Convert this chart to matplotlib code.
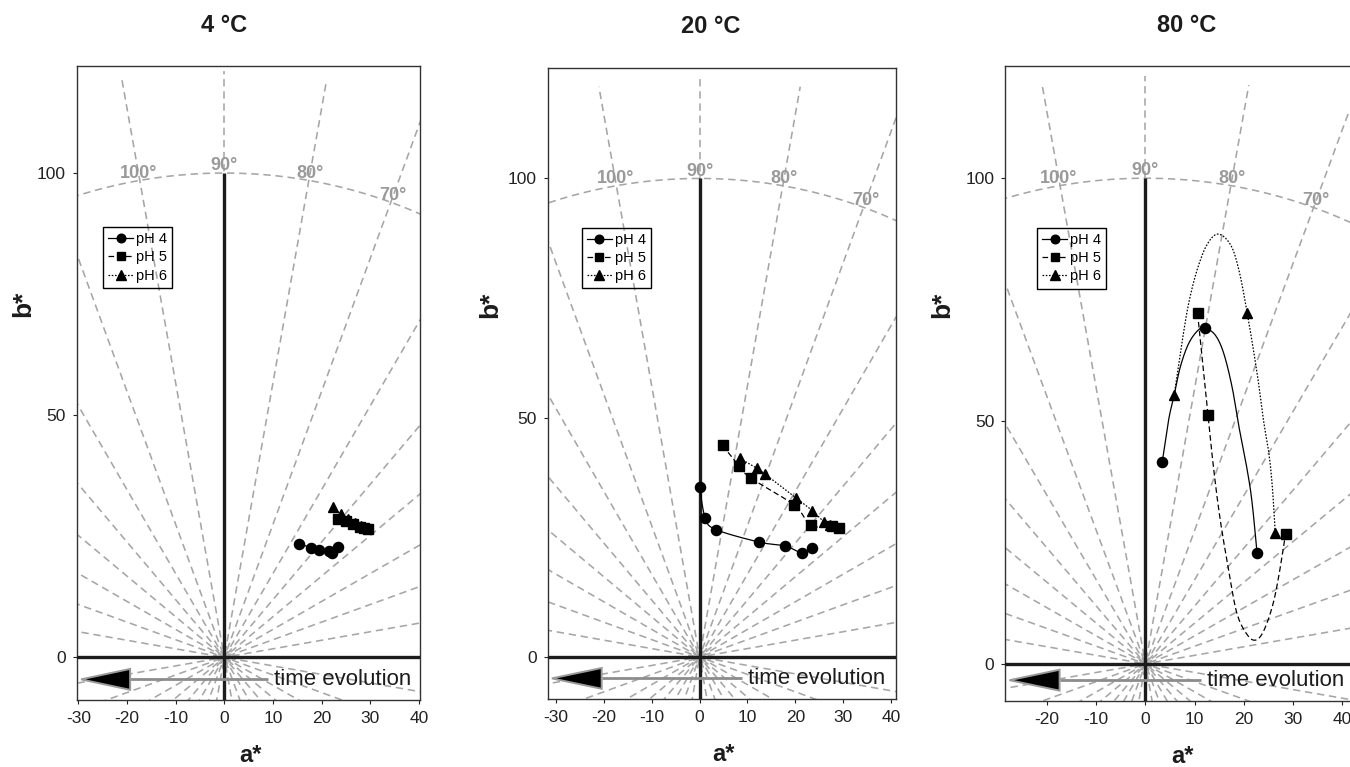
import numpy as np
import matplotlib
matplotlib.use('Agg')
import matplotlib.pyplot as plt
from matplotlib.patches import Polygon

plt.rcParams['font.family'] = ['Liberation Sans', 'DejaVu Sans']
plt.rcParams['axes.unicode_minus'] = False

# ---- 4 ºC : a*, b* for each pH ----
t4_ph4_a = [15.4, 17.9, 19.4, 21.5, 22.2, 23.3]
t4_ph4_b = [23.5, 22.6, 22.2, 21.9, 21.5, 22.8]
t4_ph5_a = [23.3, 25.0, 26.5, 27.8, 28.8, 29.6]
t4_ph5_b = [28.6, 28.2, 27.6, 27.0, 26.7, 26.6]
t4_ph6_a = [22.4, 24.0, 25.5, 26.8, 28.0]
t4_ph6_b = [31.0, 29.5, 28.6, 27.8, 27.2]

# ---- 20 ºC ----
t20_ph4_a = [0.0, 1.2, 3.5, 12.5, 17.9, 21.3, 23.5]
t20_ph4_b = [35.5, 29.0, 26.6, 24.0, 23.2, 21.8, 22.8]
t20_ph5_a = [4.8, 8.2, 10.7, 19.8, 23.2, 27.7, 29.0]
t20_ph5_b = [44.2, 40.0, 37.4, 31.7, 27.5, 27.3, 26.9]
t20_ph6_a = [8.4, 11.9, 13.7, 20.2, 23.5, 25.9, 27.3]
t20_ph6_b = [41.5, 39.5, 38.2, 33.2, 30.6, 28.3, 27.6]

# ---- 80 ºC : measured points ----
t80_ph4_a = [3.4, 12.2, 22.7]
t80_ph4_b = [41.5, 69.1, 22.8]
t80_ph5_a = [10.6, 12.7, 28.5]
t80_ph5_b = [72.2, 51.3, 26.8]
t80_ph6_a = [5.85, 20.7, 26.4]
t80_ph6_b = [55.4, 72.2, 27.0]

# ---- 80 ºC : traced fitted curves ----
t80_ph4_curve_a = [3.4, 4.7, 5.85, 7.1, 8.8, 10.8, 12.2, 14.2, 15.9, 17.6, 19.0, 20.7, 21.7, 22.7]
t80_ph4_curve_b = [41.5, 50.2, 55.4, 61.2, 66.0, 68.8, 69.1, 67.7, 64.0, 57.1, 48.9, 39.9, 33.1, 22.8]
t80_ph5_curve_a = [10.6, 12.7, 13.9, 15.2, 16.9, 18.6, 20.7, 22.4, 24.0, 25.8, 27.1, 28.5]
t80_ph5_curve_b = [72.2, 51.3, 39.9, 29.7, 19.4, 10.4, 6.0, 4.9, 6.7, 11.8, 18.0, 26.8]
t80_ph6_curve_a = [5.85, 7.4, 8.8, 10.5, 12.5, 14.75, 17.3, 19.0, 20.7, 22.7, 24.0, 25.1, 25.8, 26.4]
t80_ph6_curve_b = [55.4, 66.0, 74.3, 81.1, 86.3, 88.5, 86.3, 81.1, 72.2, 59.9, 50.2, 43.4, 36.5, 27.0]

ph_labels = ['pH 4', 'pH 5', 'pH 6']
titles = ['4 °C', '20 °C', '80 °C']
hue_label_angles = [100, 90, 80, 70]

grid_gray = '#a6a6a6'
ink = '#1c1c1c'


def catmull_rom(xs, ys, n=24):
    p = np.column_stack([xs, ys]).astype(float)
    p = np.vstack([p[0], p, p[-1]])
    t = np.linspace(0, 1, n, endpoint=False)[:, None]
    segs = []
    for i in range(1, len(p) - 2):
        p0, p1, p2, p3 = p[i - 1], p[i], p[i + 1], p[i + 2]
        segs.append(0.5 * (2 * p1 + (p2 - p0) * t
                           + (2 * p0 - 5 * p1 + 4 * p2 - p3) * t ** 2
                           + (3 * p1 - p0 - 3 * p2 + p3) * t ** 3))
    segs.append(p[-2][None, :])
    out = np.vstack(segs)
    return out[:, 0], out[:, 1]


def hue_grid(ax):
    # radial hue lines every 10 deg; stagger the dash phase so the centre isn't a neat ring
    for k, ang in enumerate(range(0, 360, 10)):
        th = np.radians(ang)
        ax.plot([0, 121 * np.cos(th)], [0, 121 * np.sin(th)], color=grid_gray,
                lw=1.15, ls=((k % 3) * 2.5, (4.6, 3.0)), zorder=1)
    th = np.linspace(0, 2 * np.pi, 500)
    ax.plot(100 * np.cos(th), 100 * np.sin(th), color=grid_gray, lw=1.15,
            ls=(0, (4.6, 3.0)), zorder=1)
    for ang in hue_label_angles:
        th = np.radians(ang)
        ax.text(101.5 * np.cos(th), 101.5 * np.sin(th), f'{ang}°', color='#9a9a9a',
                fontsize=13, fontweight='bold', ha='center', va='center', zorder=2)


panels = [
    dict(pos=[0.0570, 0.0874, 0.2541, 0.8259], xlim=(-30.27, 40.2), ylim=(-8.8, 122.0),
         xticks=[-30, -20, -10, 0, 10, 20, 30, 40], title_x=0.43,
         series=[(t4_ph4_a, t4_ph4_b, None, None), (t4_ph5_a, t4_ph5_b, None, None),
                 (t4_ph6_a, t4_ph6_b, None, None)],
         leg=(0.076, 0.747), ylab_x=-0.157),
    dict(pos=[0.4057, 0.0888, 0.2580, 0.8227], xlim=(-31.7, 41.0), ylim=(-8.75, 123.1),
         xticks=[-30, -20, -10, 0, 10, 20, 30, 40], title_x=0.467,
         series=[(t20_ph4_a, t20_ph4_b, None, None), (t20_ph5_a, t20_ph5_b, None, None),
                 (t20_ph6_a, t20_ph6_b, None, None)],
         leg=(0.098, 0.747), ylab_x=-0.164),
    dict(pos=[0.7447, 0.0863, 0.2593, 0.8270], xlim=(-28.5, 42.7), ylim=(-7.6, 123.0),
         xticks=[-20, -10, 0, 10, 20, 30, 40], title_x=0.518,
         series=[(t80_ph4_a, t80_ph4_b, t80_ph4_curve_a, t80_ph4_curve_b),
                 (t80_ph5_a, t80_ph5_b, t80_ph5_curve_a, t80_ph5_curve_b),
                 (t80_ph6_a, t80_ph6_b, t80_ph6_curve_a, t80_ph6_curve_b)],
         leg=(0.091, 0.746), ylab_x=-0.18),
]

markers = ['o', 's', '^']
msizes = [7.3, 6.9, 7.9]
linestyles = ['-', (0, (4.5, 2.5)), (0, (1.3, 1.3))]

fig = plt.figure(figsize=(13.5, 7.67), dpi=100)

for i, p in enumerate(panels):
    ax = fig.add_axes(p['pos'])
    ax.set_xlim(*p['xlim'])
    ax.set_ylim(*p['ylim'])
    hue_grid(ax)

    # bold a*/b* axes through the origin
    ax.axhline(0, color=ink, lw=2.4, zorder=3)
    ax.vlines(0, p['ylim'][0], 100, color=ink, lw=2.4, zorder=3)

    handles = []
    for k, (sa, sb, ca, cb) in enumerate(p['series']):
        if ca is None:
            ca, cb = sa, sb
        cx, cy = catmull_rom(ca, cb)
        ax.plot(cx, cy, color='black', lw=0.9, ls=linestyles[k], zorder=4)
        ax.plot(sa, sb, ls='none', marker=markers[k], ms=msizes[k], color='black', zorder=5)
        h, = ax.plot([], [], color='black', lw=0.9, ls=linestyles[k], marker=markers[k],
                     ms=msizes[k] * 0.85)
        handles.append(h)

    leg = ax.legend(handles, ph_labels, loc='upper left', bbox_to_anchor=p['leg'],
                    borderaxespad=0, fontsize=10.5, handlelength=1.7, handletextpad=0.2,
                    labelspacing=0.3, borderpad=0.35, fancybox=False, framealpha=1)
    leg.get_frame().set_edgecolor('black')
    leg.get_frame().set_facecolor('none')
    leg.get_frame().set_linewidth(1.0)
    leg.set_zorder(6)

    # time arrow along the bottom
    ay = 0.0325
    ax.plot([0.155, 0.558], [ay, ay], transform=ax.transAxes, color='#8c8c8c', lw=2.0,
            zorder=4, solid_capstyle='butt')
    head = Polygon([[0.012, ay], [0.155, ay + 0.0165], [0.155, ay - 0.0165]], closed=True,
                   transform=ax.transAxes, facecolor='black', edgecolor='#9a9a9a', lw=1.4,
                   zorder=5)
    ax.add_patch(head)
    ax.text(0.575, ay, 'time evolution', transform=ax.transAxes, fontsize=16,
            ha='left', va='center', color=ink, zorder=5)

    ax.set_xticks(p['xticks'])
    ax.set_yticks([0, 50, 100])
    ax.tick_params(direction='out', length=3, width=0.8, labelsize=12.5, pad=5, colors='#222222')
    for s in ax.spines.values():
        s.set_linewidth(1.0)
        s.set_color('#333333')

    ax.text(p['title_x'], 1.065, titles[i], transform=ax.transAxes, fontsize=17,
            fontweight='bold', ha='center', va='center', color=ink)
    ax.text(0.505, -0.088, 'a*', transform=ax.transAxes, fontsize=17, fontweight='bold',
            ha='center', va='center', color=ink)
    ax.text(p['ylab_x'], 0.625, 'b*', transform=ax.transAxes, fontsize=19, fontweight='bold',
            ha='center', va='center', rotation=90, color=ink)

fig.savefig('out.png', dpi=100)
